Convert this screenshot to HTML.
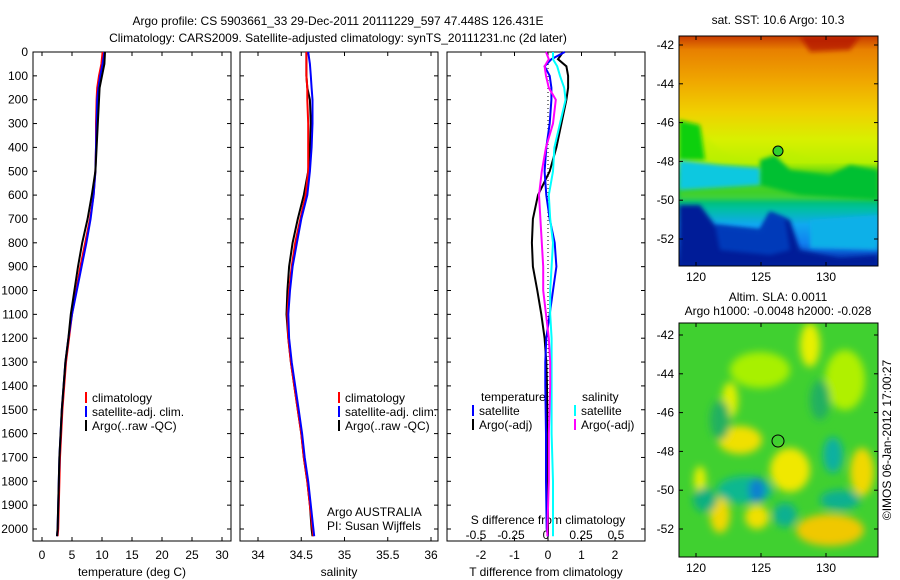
<!DOCTYPE html>
<html><head><meta charset="utf-8"><style>
html,body{margin:0;padding:0;background:#fff;}
svg{display:block;font-family:"Liberation Sans",sans-serif;font-size:12px;}
</style></head><body>
<svg id="fig" width="900" height="580" xmlns="http://www.w3.org/2000/svg">
<defs>
<linearGradient id="sstg" x1="0" y1="0" x2="0" y2="1">
<stop offset="0" stop-color="#c83a00"/><stop offset="0.06" stop-color="#e88000"/>
<stop offset="0.2" stop-color="#f0a800"/><stop offset="0.33" stop-color="#f0d000"/>
<stop offset="0.45" stop-color="#d8f000"/><stop offset="0.55" stop-color="#b8f000"/>
<stop offset="0.6" stop-color="#20c820"/><stop offset="0.68" stop-color="#00c040"/>
<stop offset="0.75" stop-color="#00c0a0"/><stop offset="0.82" stop-color="#10a8f0"/>
<stop offset="0.9" stop-color="#1080f0"/><stop offset="1" stop-color="#0020a0"/>
</linearGradient>
<filter id="bl" x="-50%" y="-50%" width="200%" height="200%"><feGaussianBlur stdDeviation="4"/></filter>
<filter id="bl2" x="-50%" y="-50%" width="200%" height="200%"><feGaussianBlur stdDeviation="2"/></filter>
<clipPath id="c1"><rect x="679" y="36" width="199" height="230"/></clipPath>
<clipPath id="c2"><rect x="679" y="323" width="199" height="234"/></clipPath>
</defs>
<g id="titles">
<text x="338" y="25" text-anchor="middle">Argo profile: CS 5903661_33 29-Dec-2011 20111229_597 47.448S 126.431E</text>
<text x="338" y="42" text-anchor="middle">Climatology: CARS2009. Satellite-adjusted climatology: synTS_20111231.nc (2d later)</text>
</g>
<g id="plots"></g>
<!-- SST map -->
<g>
<text x="778" y="24" text-anchor="middle">sat. SST: 10.6 Argo: 10.3</text>
<g clip-path="url(#c1)">
<rect x="679" y="36" width="199" height="230" fill="url(#sstg)"/>
<path d="M679,125 L700,130 L720,150 L740,160 L760,160 L770,150 L790,150 L810,160 L840,165 L878,170 L878,200 L679,200 Z" fill="#b8f000" opacity="0.35" filter="url(#bl2)"/>
<path d="M679,120 L700,125 L705,160 L679,160 Z" fill="#10d010" filter="url(#bl2)"/>
<path d="M760,160 L775,155 L790,170 L830,175 L850,165 L878,170 L878,200 L800,195 L760,185 Z" fill="#00c030" filter="url(#bl2)"/>
<path d="M679,160 L720,165 L760,168 L760,185 L679,190 Z" fill="#10c8e0" filter="url(#bl2)"/>
<path d="M679,205 L700,205 L715,225 L760,230 L770,212 L790,220 L800,250 L840,258 L878,255 L878,266 L679,266 Z" fill="#001a98" filter="url(#bl2)"/>
<path d="M715,225 L760,230 L770,212 L785,218 L790,250 L770,255 L720,250 Z" fill="#0050d0" opacity="0.6" filter="url(#bl2)"/>
<path d="M810,220 L878,215 L878,250 L810,248 Z" fill="#10b0e8" filter="url(#bl2)"/>
<path d="M800,36 L860,36 L850,50 L810,52 Z" fill="#b01000" opacity="0.7" filter="url(#bl2)"/>
</g>
<circle cx="778" cy="151" r="5" fill="#30d030" stroke="#000" stroke-width="1"/>
<rect x="679" y="36" width="199" height="230" fill="none" stroke="#000"/>
</g>
<!-- SLA map -->
<g>
<text x="778" y="301" text-anchor="middle">Altim. SLA: 0.0011</text>
<text x="778" y="315" text-anchor="middle">Argo h1000: -0.0048 h2000: -0.028</text>
<g clip-path="url(#c2)">
<rect x="679" y="323" width="199" height="234" fill="#40d030"/>
<g filter="url(#bl)">
<ellipse cx="810" cy="345" rx="10" ry="22" fill="#e8f000"/>
<ellipse cx="740" cy="440" rx="22" ry="14" fill="#f0e000"/>
<ellipse cx="730" cy="400" rx="8" ry="18" fill="#e0f000"/>
<ellipse cx="790" cy="470" rx="20" ry="22" fill="#f0e800"/>
<ellipse cx="862" cy="472" rx="12" ry="24" fill="#f0d800"/>
<ellipse cx="720" cy="515" rx="10" ry="18" fill="#f0d800"/>
<ellipse cx="757" cy="517" rx="12" ry="12" fill="#f0e000"/>
<ellipse cx="830" cy="530" rx="34" ry="16" fill="#f0c800"/>
<ellipse cx="700" cy="480" rx="6" ry="14" fill="#e8f000"/>
<ellipse cx="845" cy="380" rx="20" ry="30" fill="#b0f000"/>
<ellipse cx="760" cy="370" rx="30" ry="18" fill="#a8f000"/>
<ellipse cx="833" cy="455" rx="10" ry="18" fill="#10b0a0"/>
<ellipse cx="745" cy="490" rx="28" ry="14" fill="#10b890"/>
<ellipse cx="757" cy="490" rx="8" ry="12" fill="#1080d0"/>
<ellipse cx="705" cy="500" rx="12" ry="12" fill="#10b080"/>
<ellipse cx="785" cy="515" rx="12" ry="12" fill="#10b090"/>
<ellipse cx="840" cy="500" rx="20" ry="10" fill="#10b090"/>
<ellipse cx="720" cy="420" rx="10" ry="20" fill="#20b060"/>
<ellipse cx="820" cy="400" rx="10" ry="20" fill="#20b060"/>
</g>
</g>
<circle cx="778" cy="441" r="6" fill="none" stroke="#000" stroke-width="1"/>
<rect x="679" y="323" width="199" height="234" fill="none" stroke="#000"/>
<text transform="translate(891,440) rotate(-90)" text-anchor="middle">©IMOS 06-Jan-2012 17:00:27</text>
</g>
<g id="maxes"></g>
</svg>
<script>
var depths=[0,50,100,150,200,300,400,500,600,700,800,900,1000,1100,1200,1300,1400,1500,1600,1700,1800,1900,2000,2030];
var tClim=[10.1,9.9,9.5,9.2,9.1,9.0,9.0,8.9,8.6,8.0,7.2,6.4,5.7,5.0,4.5,4.0,3.7,3.4,3.2,3.0,2.9,2.8,2.7,2.6];
var tSat=[10.4,10.1,9.7,9.4,9.2,9.1,9.0,8.9,8.6,8.1,7.4,6.6,5.8,5.0,4.4,3.9,3.6,3.3,3.1,2.9,2.8,2.7,2.6,2.5];
var tArgo=[10.5,10.4,10.0,9.6,9.5,9.3,9.1,8.9,8.3,7.6,6.7,6.0,5.4,4.8,4.4,3.9,3.6,3.3,3.1,2.9,2.8,2.7,2.6,2.5];
var sClim=[34.56,34.56,34.56,34.57,34.57,34.58,34.58,34.58,34.55,34.49,34.43,34.39,34.36,34.34,34.35,34.38,34.42,34.46,34.5,34.53,34.57,34.6,34.63,34.64];
var sSat=[34.58,34.6,34.61,34.62,34.63,34.63,34.62,34.6,34.57,34.5,34.45,34.4,34.37,34.35,34.36,34.39,34.43,34.47,34.51,34.54,34.58,34.61,34.64,34.65];
var sArgo=[34.56,34.56,34.56,34.57,34.6,34.61,34.6,34.58,34.53,34.46,34.4,34.36,34.34,34.33,34.35,34.38,34.42,34.46,34.5,34.53,34.57,34.6,34.62,34.63];
var dDepths=[0,30,60,100,150,200,300,400,500,600,700,800,900,1000,1100,1200,1300,1400,1600,1800,2000,2030];
var dTargo=[0.45,0.3,0.55,0.6,0.6,0.55,0.4,0.25,0.05,-0.3,-0.45,-0.48,-0.45,-0.32,-0.2,-0.1,-0.05,-0.03,-0.02,0,0,0];
var dTsat=[0.5,0.1,-0.1,0.05,0.1,0.1,0.05,-0.05,-0.1,-0.05,0.05,0.2,0.25,0.15,0.05,-0.05,-0.08,-0.08,-0.06,-0.06,-0.04,0];
var dSsat=[0.05,0.05,0.08,0.1,0.13,0.14,0.1,0.06,0.05,0.02,0.03,0.05,0.04,0.03,0.03,0.04,0.04,0.04,0.04,0.05,0.05,0.05];
var dSargo=[0.0,0.02,-0.01,0.0,0.02,0.07,0.05,0.0,-0.03,-0.05,-0.04,-0.03,-0.02,-0.02,0.0,0.02,0.03,0.03,0.02,0.02,0.01,0.01];
var depthTicks=[0,100,200,300,400,500,600,700,800,900,1000,1100,1200,1300,1400,1500,1600,1700,1800,1900,2000];
var tTicks=[0,5,10,15,20,25,30];
var sTicks=[34,34.5,35,35.5,36];
var dtTicks=[-2,-1,0,1,2];
var dsTicks=[-0.5,-0.25,0,0.25,0.5];
var NS='http://www.w3.org/2000/svg';
var plots=document.getElementById('plots');
function el(tag,attrs,parent){var e=document.createElementNS(NS,tag);for(var k in attrs)e.setAttribute(k,attrs[k]);(parent||plots).appendChild(e);return e;}
function txt(x,y,s,anchor,parent){var t=el('text',{x:x,y:y,'text-anchor':anchor||'start'},parent);t.textContent=s;return t;}
var PY0=52,PY1=541;
function yD(d){return PY0+d*0.2385;}
function lin(v0,v1,p0,p1){return function(v){return p0+(v-v0)/(v1-v0)*(p1-p0);};}
var xT=lin(0,30,42,222), xS=lin(34,36,258,431), xDT=lin(-2,2,481,615), xDS=lin(-0.5,0.5,476,616);
function line(xs,vals,dep,f,color,name){var d='';for(var i=0;i<vals.length;i++){d+=(i?'L':'M')+f(vals[i]).toFixed(1)+','+yD(dep[i]).toFixed(1);}
var p=el('path',{d:d,fill:'none',stroke:color,'stroke-width':2});

return p;}
function panel(x0,x1,ticks,f,fmt,name,showY){
var g=el('g',{});


el('rect',{x:x0,y:PY0,width:x1-x0,height:PY1-PY0,fill:'none',stroke:'#000'},g);
depthTicks.forEach(function(d){var y=yD(d);el('line',{x1:x0,x2:x0+4,y1:y,y2:y,stroke:'#000'},g);el('line',{x1:x1-4,x2:x1,y1:y,y2:y,stroke:'#000'},g);
if(showY){var t=txt(x0-5,y+4,String(d),'end',g);}});
ticks.forEach(function(v){var x=f(v);el('line',{x1:x,x2:x,y1:PY1,y2:PY1-4,stroke:'#000'},g);el('line',{x1:x,x2:x,y1:PY0,y2:PY0+4,stroke:'#000'},g);txt(x,559,fmt(v),'middle',g);});
return g;}
var g1=panel(33,231,tTicks,xT,String,'temperature-panel',true);
txt(132,576,'temperature (deg C)','middle',g1);
line(0,tClim,depths,xT,'#f00','temperature-climatology-line');
line(0,tSat,depths,xT,'#00f','temperature-satellite-line');
line(0,tArgo,depths,xT,'#000','temperature-argo-line');
var g2=panel(240,438,sTicks,xS,String,'salinity-panel',false);
txt(339,576,'salinity','middle',g2);
line(0,sArgo,depths,xS,'#000','salinity-argo-line');
line(0,sClim,depths,xS,'#f00','salinity-climatology-line');
line(0,sSat,depths,xS,'#00f','salinity-satellite-line');
var g3=panel(447,645,dtTicks,xDT,String,'difference-panel',false);
txt(546,576,'T difference from climatology','middle',g3);
txt(548,524,'S difference from climatology','middle',g3);
dsTicks.forEach(function(v){txt(xDS(v),539,String(v),'middle',g3);});
el('line',{x1:xDT(0),x2:xDT(0),y1:PY0,y2:PY1,stroke:'#000','stroke-dasharray':'1,3'},g3);
line(0,dTargo,dDepths,xDT,'#000','t-diff-argo-line');
line(0,dTsat,dDepths,xDT,'#00f','t-diff-satellite-line');
line(0,dSsat,dDepths,xDS,'#0ff','s-diff-satellite-line');
line(0,dSargo,dDepths,xDS,'#f0f','s-diff-argo-line');
function legend(x,y,items,name){var g=el('g',{});


items.forEach(function(it,i){var yy=y+i*14;el('line',{x1:x,x2:x,y1:yy-10,y2:yy+1,stroke:it[1],'stroke-width':2},g);txt(x+6,yy,it[0],'start',g);});return g;}
legend(86,402,[['climatology','#f00'],['satellite-adj. clim.','#00f'],['Argo(..raw -QC)','#000']],'temperature-legend');
legend(339,402,[['climatology','#f00'],['satellite-adj. clim.','#00f'],['Argo(..raw -QC)','#000']],'salinity-legend');
txt(481,401,'temperature','start',g3);
legend(473,415,[['satellite','#00f'],['Argo(-adj)','#000']],'t-diff-legend');
txt(582,401,'salinity','start',g3);
legend(575,415,[['satellite','#0ff'],['Argo(-adj)','#f0f']],'s-diff-legend');
txt(327,516,'Argo AUSTRALIA','start',g2);
txt(327,530,'PI: Susan Wijffels','start',g2);
// map axes
var mx=lin(120,130,696,826);
var latTicks=[-42,-44,-46,-48,-50,-52];
var lonTicks=[120,125,130];
var ma=document.getElementById('maxes');
function mapAxes(y0,y1,yLat){var g=el('g',{},ma);


latTicks.forEach(function(l){var y=yLat(l);el('line',{x1:679,x2:683,y1:y,y2:y,stroke:'#000'},g);el('line',{x1:874,x2:878,y1:y,y2:y,stroke:'#000'},g);txt(674,y+4,String(l),'end',g);});
lonTicks.forEach(function(l){var x=mx(l);el('line',{x1:x,x2:x,y1:y1,y2:y1-4,stroke:'#000'},g);el('line',{x1:x,x2:x,y1:y0,y2:y0+4,stroke:'#000'},g);txt(x,y1+15,String(l),'middle',g);});}
mapAxes(36,266,lin(-42,-52,45,239));
mapAxes(323,557,lin(-42,-52,335,529));
</script>
</body></html>
